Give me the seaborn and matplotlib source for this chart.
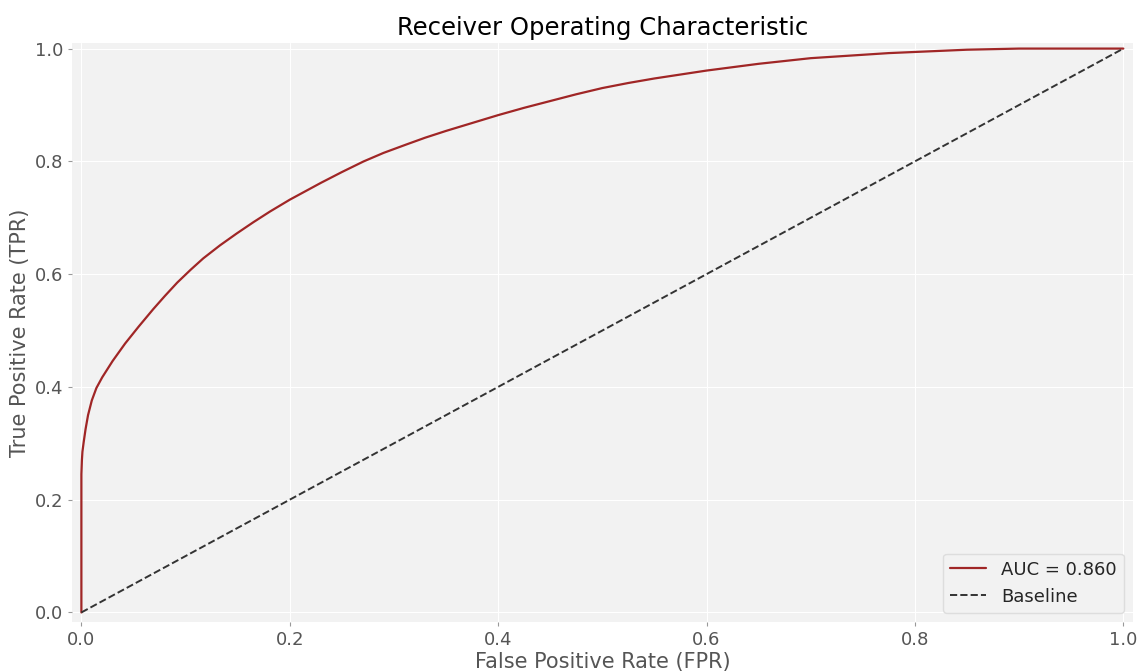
import seaborn as sns
import pandas as pd
import matplotlib.pyplot as plt

# ROC curve points
fpr = [0.0, 0.0, 0.0005, 0.001, 0.0022, 0.004, 0.0064, 0.01, 0.0144, 0.02,
       0.03, 0.042, 0.055, 0.069, 0.08, 0.092, 0.105, 0.117, 0.133, 0.149,
       0.165, 0.181, 0.2, 0.21, 0.23, 0.25, 0.271, 0.29, 0.312, 0.33, 0.35,
       0.375, 0.4, 0.425, 0.45, 0.475, 0.5, 0.525, 0.55, 0.575, 0.6, 0.625,
       0.65, 0.675, 0.7, 0.725, 0.75, 0.775, 0.8, 0.825, 0.85, 0.875, 0.9,
       0.95, 1.0]
tpr = [0.0, 0.245, 0.27, 0.285, 0.302, 0.325, 0.35, 0.376, 0.398, 0.417,
       0.446, 0.477, 0.507, 0.538, 0.561, 0.585, 0.608, 0.628, 0.651, 0.672,
       0.692, 0.711, 0.732, 0.742, 0.762, 0.781, 0.80, 0.815, 0.83, 0.842, 0.854,
       0.868, 0.882, 0.895, 0.907, 0.919, 0.93, 0.939, 0.947, 0.954, 0.961, 0.967,
       0.973, 0.978, 0.983, 0.986, 0.989, 0.992, 0.994, 0.996, 0.998, 0.999, 1.0,
       1.0, 1.0]
auc = 0.860
baseline = [0.0, 1.0]

sns.set_style('darkgrid', {'axes.facecolor': '#f2f2f2', 'grid.color': 'white'})
plt.rcParams['font.family'] = ['DejaVu Sans']

df = pd.DataFrame({'fpr': fpr, 'tpr': tpr})
df_base = pd.DataFrame({'x': baseline, 'y': baseline})

fig, ax = plt.subplots(figsize=(11.43, 6.71), dpi=100)
fig.subplots_adjust(left=0.063, right=0.991, bottom=0.073, top=0.936)

sns.lineplot(data=df, x='fpr', y='tpr', sort=False, estimator=None,
             color='#a02626', linewidth=1.6, label=f'AUC = {auc:.3f}', ax=ax)
sns.lineplot(data=df_base, x='x', y='y', estimator=None, color='#333333',
             linestyle='--', linewidth=1.4, label='Baseline', ax=ax)

ax.set_xlim(-0.009, 1.009)
ax.set_ylim(-0.017, 1.01)
ax.set_xticks([0, 0.2, 0.4, 0.6, 0.8, 1.0])
ax.set_yticks([0, 0.2, 0.4, 0.6, 0.8, 1.0])
ax.tick_params(axis='both', labelsize=13, colors='#555555', length=3,
               width=0.8, direction='out', left=True, bottom=True)
ax.tick_params(axis='both', color='#999999')
for s in ax.spines.values():
    s.set_visible(False)

ax.set_title('Receiver Operating Characteristic', fontsize=17.5, color='black')
ax.set_xlabel('False Positive Rate (FPR)', fontsize=15, color='#555555', labelpad=2)
ax.set_ylabel('True Positive Rate (TPR)', fontsize=15, color='#555555', labelpad=3)

leg = ax.legend(loc='lower right', fontsize=13, frameon=True, facecolor='#f2f2f2',
                edgecolor='#dddddd', framealpha=1)

plt.savefig('out.png', dpi=100)
